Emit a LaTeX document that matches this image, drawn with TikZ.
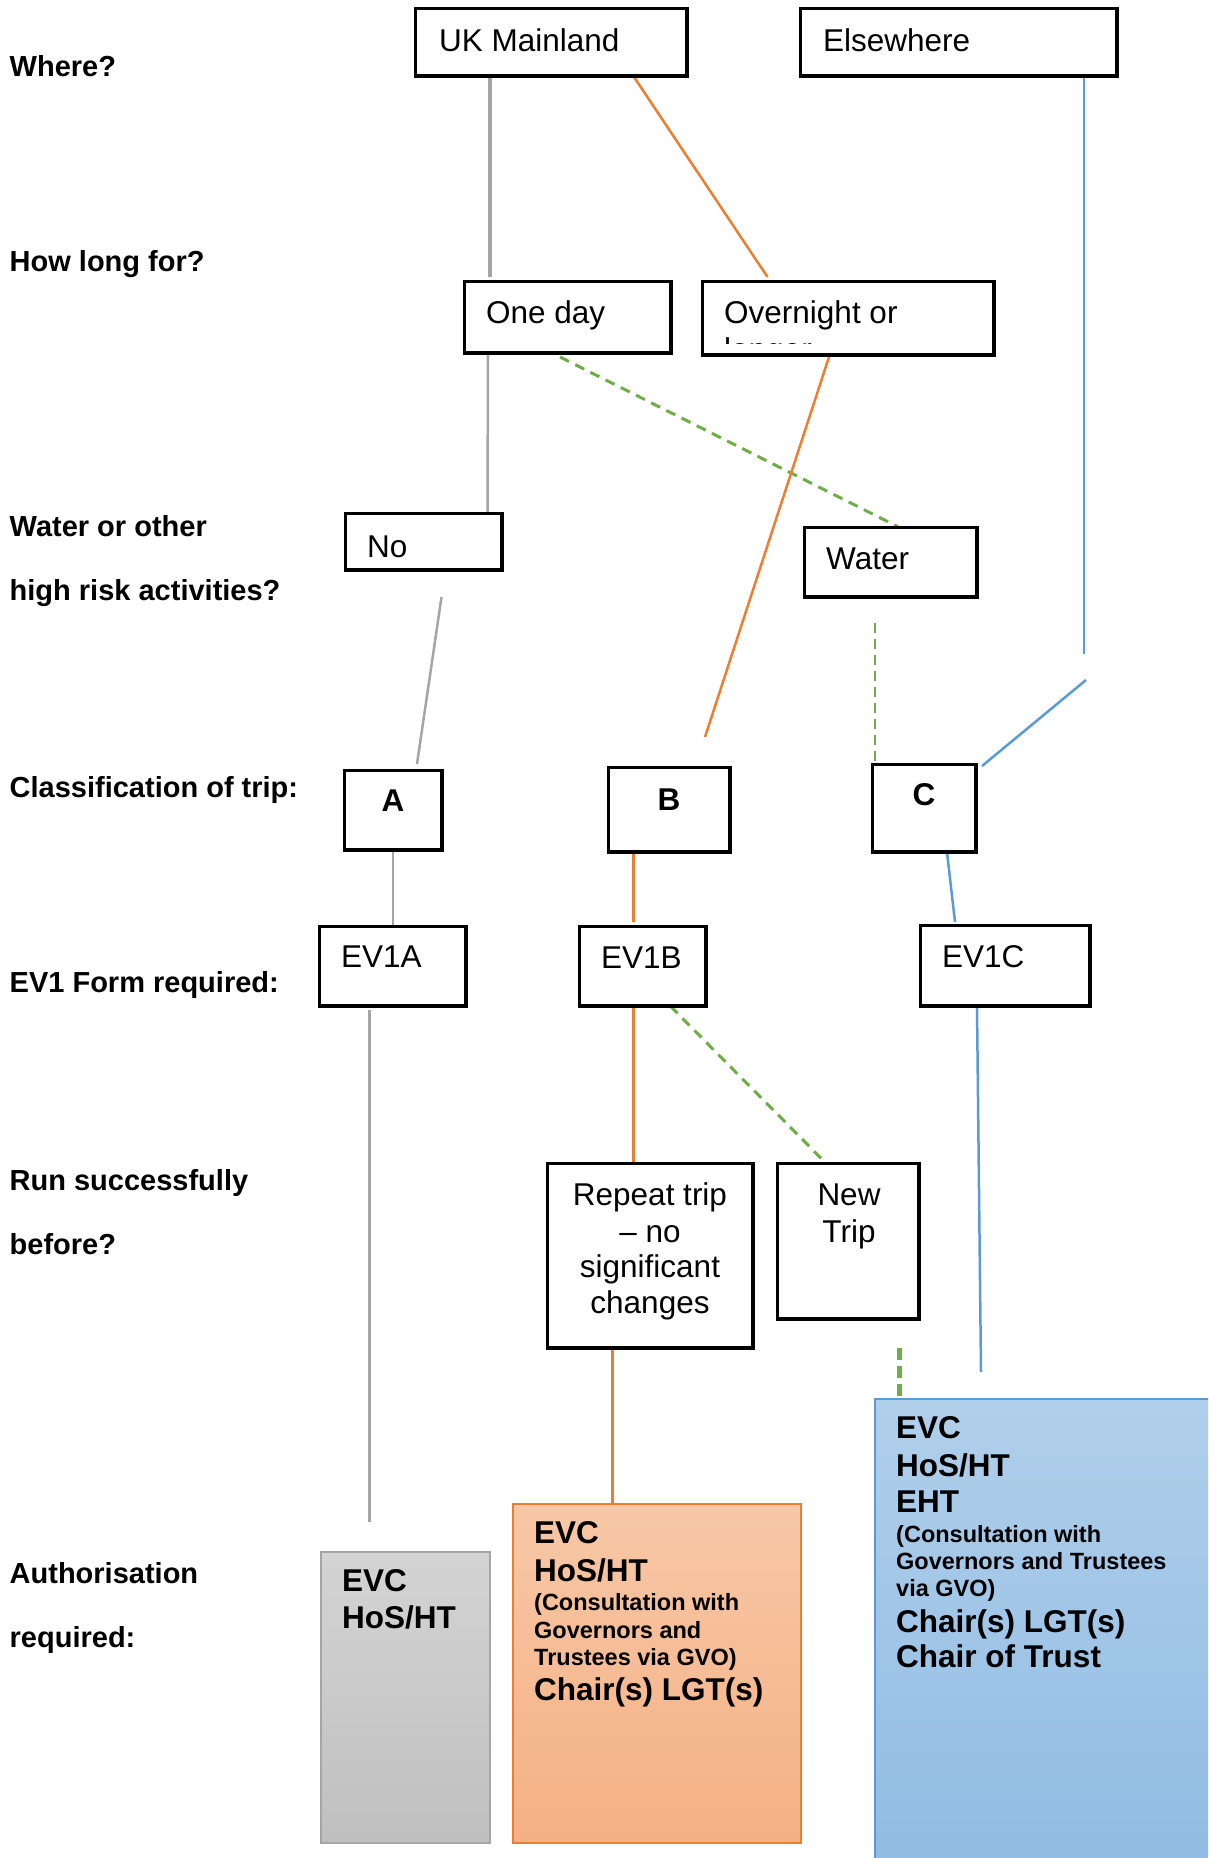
\documentclass[tikz,border=0pt]{standalone}
\usepackage{fontspec}
\setmainfont{Liberation Sans}
\definecolor{lgray}{HTML}{A5A5A5}
\definecolor{lorange}{HTML}{ED7D31}
\definecolor{lblue}{HTML}{5B9BD5}
\definecolor{lgreen}{HTML}{70AD47}
\begin{document}
\begin{tikzpicture}[x=1pt,y=-1pt,
  box/.style={draw=black, line width=2.5pt, fill=white, rectangle, inner sep=0pt},
  lbl/.style={font=\fontsize{29}{34}\selectfont\bfseries, anchor=base west, inner sep=0pt},
  btxt/.style={font=\fontsize{31.5}{37}\selectfont, anchor=base west, inner sep=0pt},
  ctxt/.style={font=\fontsize{31.5}{37}\selectfont, anchor=base, inner sep=0pt},
  bigb/.style={font=\fontsize{31.5}{37}\selectfont\bfseries, anchor=base west, inner sep=0pt},
  smallb/.style={font=\fontsize{23.5}{27}\selectfont\bfseries, anchor=base west, inner sep=0pt},
  gline/.style={draw=lgray, line width=2.5pt},
  oline/.style={draw=lorange, line width=2.5pt},
  bline/.style={draw=lblue, line width=2.5pt},
  gdash/.style={draw=lgreen, line width=3pt, dash pattern=on 10pt off 7pt},
]
\useasboundingbox (0,0) rectangle (1208,1858);
\clip (0,0) rectangle (1208,1858);

% left labels
\node[lbl] (q1) at (9.5,76) {Where?};
\node[lbl] (q2) at (9.5,271) {How long for?};
\node[lbl] (q3a) at (9.5,536) {Water or other};
\node[lbl] (q3b) at (9.5,600) {high risk activities?};
\node[lbl] (q4) at (9.5,797) {Classification of trip:};
\node[lbl] (q5) at (9.5,992) {EV1 Form required:};
\node[lbl] (q6a) at (9.5,1190) {Run successfully};
\node[lbl] (q6b) at (9.5,1254) {before?};
\node[lbl] (q7a) at (9.5,1583) {Authorisation};
\node[lbl] (q7b) at (9.5,1647) {required:};

% authorisation boxes
\node[rectangle, draw=lgray, line width=2pt, top color=black!17, bottom color=black!25, minimum width=169, minimum height=291, inner sep=0pt] (authA) at (405.5,1697.5) {};
\node[rectangle, draw=lorange, line width=2pt, top color=lorange!43, bottom color=lorange!60, minimum width=288, minimum height=339, inner sep=0pt] (authB) at (657,1673.5) {};
\node[rectangle, draw=lblue, line width=2pt, top color=lblue!48, bottom color=lblue!68, minimum width=355, minimum height=481, inner sep=0pt] (authC) at (1052.5,1639.5) {};

% boxes
\node[box, minimum width=270, minimum height=66] (uk) at (551,42) {};
\node[box, minimum width=315, minimum height=66] (else) at (958.5,42) {};
\node[box, minimum width=205, minimum height=70] (oneday) at (567.5,317) {};
\node[box, minimum width=290, minimum height=72] (over) at (848,318) {};
\node[box, minimum width=155, minimum height=55] (no) at (423.5,541.5) {};
\node[box, minimum width=171, minimum height=68] (water) at (890.5,562) {};
\node[box, minimum width=96, minimum height=78] (A) at (393,810) {};
\node[box, minimum width=120, minimum height=83] (B) at (669,809.5) {};
\node[box, minimum width=102, minimum height=86] (C) at (924,808) {};
\node[box, minimum width=145, minimum height=78] (ev1a) at (392.5,966) {};
\node[box, minimum width=125, minimum height=78] (ev1b) at (642.5,966) {};
\node[box, minimum width=168, minimum height=79] (ev1c) at (1005,965.5) {};
\node[box, minimum width=204, minimum height=183] (rep) at (650,1255.5) {};
\node[box, minimum width=140, minimum height=154] (newt) at (848,1241) {};

% helper x positions
\coordinate (x490) at (490,0);
\coordinate (x633) at (633.5,0);
\coordinate (x1084) at (1084,0);
\coordinate (x488) at (488,0);
\coordinate (x898) at (898,0);
\coordinate (x875) at (875,0);
\coordinate (x947) at (947,0);
\coordinate (x370) at (369.5,0);
\coordinate (x671) at (670.5,0);
\coordinate (x825) at (825.5,0);
\coordinate (x977) at (977,0);
\coordinate (x899) at (899,0);
\coordinate (x612) at (612.5,0);

% connectors
\coordinate (e1) at (490,277);
\draw[gline, line width=3.5pt] (uk.south -| x490) -- (e1);
\coordinate (e2) at (767.5,277);
\draw[oline] (uk.south -| x633) -- (e2);
\coordinate (e3) at (1084,654);
\draw[bline] (else.south -| x1084) -- (e3);
\coordinate (e3b) at (1086,680);
\coordinate (e3c) at (982,766);
\draw[bline] (e3b) -- (e3c);
\coordinate (e4) at (487.5,512);
\draw[gline] (oneday.south -| x488) -- (e4);
\coordinate (e5) at (560,357);
\draw[gdash] (e5) -- (water.north -| x898);
\coordinate (e6a) at (829,357);
\coordinate (e6b) at (705,737);
\draw[oline] (e6a) -- (e6b);
\coordinate (e7a) at (441.5,597);
\coordinate (e7b) at (417,764);
\draw[gline] (e7a) -- (e7b);
\coordinate (e8) at (875,623);
\draw[draw=lgreen, line width=2pt, dash pattern=on 10pt off 6pt] (e8) -- (C.north -| x875);
\draw[gline] (A.south) -- (A.south |- ev1a.north);
\coordinate (e10) at (633.5,922);
\draw[oline] (B.south -| x633) -- (e10);
\coordinate (e11) at (955,922);
\draw[bline] (C.south -| x947) -- (e11);
\coordinate (e12a) at (369.5,1010);
\coordinate (e12b) at (369.5,1522);
\draw[gline] (e12a) -- (e12b);
\draw[oline] (ev1b.south -| x633) -- (rep.north -| x633);
\draw[gdash] (ev1b.south -| x671) -- (newt.north -| x825);
\coordinate (e15) at (981,1372);
\draw[bline] (ev1c.south -| x977) -- (e15);
\draw[draw=lgreen, line width=5pt, dash pattern=on 12pt off 6pt] (rep.south -| x899) -- (authC.north -| x899);
\draw[oline] (rep.south -| x612) -- (authB.north -| x612);

% redraw box borders over line ends
\foreach \n in {uk,else,oneday,over,no,water,A,B,C,ev1a,ev1b,ev1c,rep,newt}{
  \draw[black, line width=2.5pt] (\n.south west) rectangle (\n.north east);
}

% box texts
\node[btxt] (tuk) at (439,51) {UK Mainland};
\node[btxt] (tel) at (823,51) {Elsewhere};
\node[btxt] (tod) at (486,323) {One day};
\node[btxt] (tov) at (724,323) {Overnight or};
\begin{scope}
  \clip (705,300) rectangle (991,343);
  \node[btxt] (tlo) at (724,360) {longer};
\end{scope}
\node[btxt] (tno) at (367,557) {No};
\node[btxt] (twa) at (826,569) {Water};
\node[ctxt, font=\fontsize{31.5}{37}\selectfont\bfseries] (tA) at (393,811) {A};
\node[ctxt, font=\fontsize{31.5}{37}\selectfont\bfseries] (tB) at (669,810) {B};
\node[ctxt, font=\fontsize{31.5}{37}\selectfont\bfseries] (tC) at (924,805) {C};
\node[btxt] (tea) at (341,967) {EV1A};
\node[btxt] (teb) at (601,968) {EV1B};
\node[btxt] (tec) at (942,967) {EV1C};
\node[ctxt] (tr1) at (650,1205) {Repeat trip};
\node[ctxt] (tr2) at (650,1242) {– no};
\node[ctxt] (tr3) at (650,1277) {significant};
\node[ctxt] (tr4) at (650,1313) {changes};
\node[ctxt] (tn1) at (849,1205) {New};
\node[ctxt] (tn2) at (849,1242) {Trip};

% authorisation texts
\node[bigb] (ga1) at (342,1591) {EVC};
\node[bigb] (ga2) at (342,1628) {HoS/HT};

\node[bigb] (ob1) at (534,1543) {EVC};
\node[bigb] (ob2) at (534,1581) {HoS/HT};
\node[smallb] (ob3) at (534,1610) {(Consultation with};
\node[smallb] (ob4) at (534,1638) {Governors and};
\node[smallb] (ob5) at (534,1665) {Trustees via GVO)};
\node[bigb] (ob6) at (534,1700) {Chair(s) LGT(s)};

\node[bigb] (bc1) at (896,1438) {EVC};
\node[bigb] (bc2) at (896,1476) {HoS/HT};
\node[bigb] (bc3) at (896,1512) {EHT};
\node[smallb] (bc4) at (896,1542) {(Consultation with};
\node[smallb] (bc5) at (896,1569) {Governors and Trustees};
\node[smallb] (bc6) at (896,1596) {via GVO)};
\node[bigb] (bc7) at (896,1632) {Chair(s) LGT(s)};
\node[bigb] (bc8) at (896,1667) {Chair of Trust};
\end{tikzpicture}
\end{document}
